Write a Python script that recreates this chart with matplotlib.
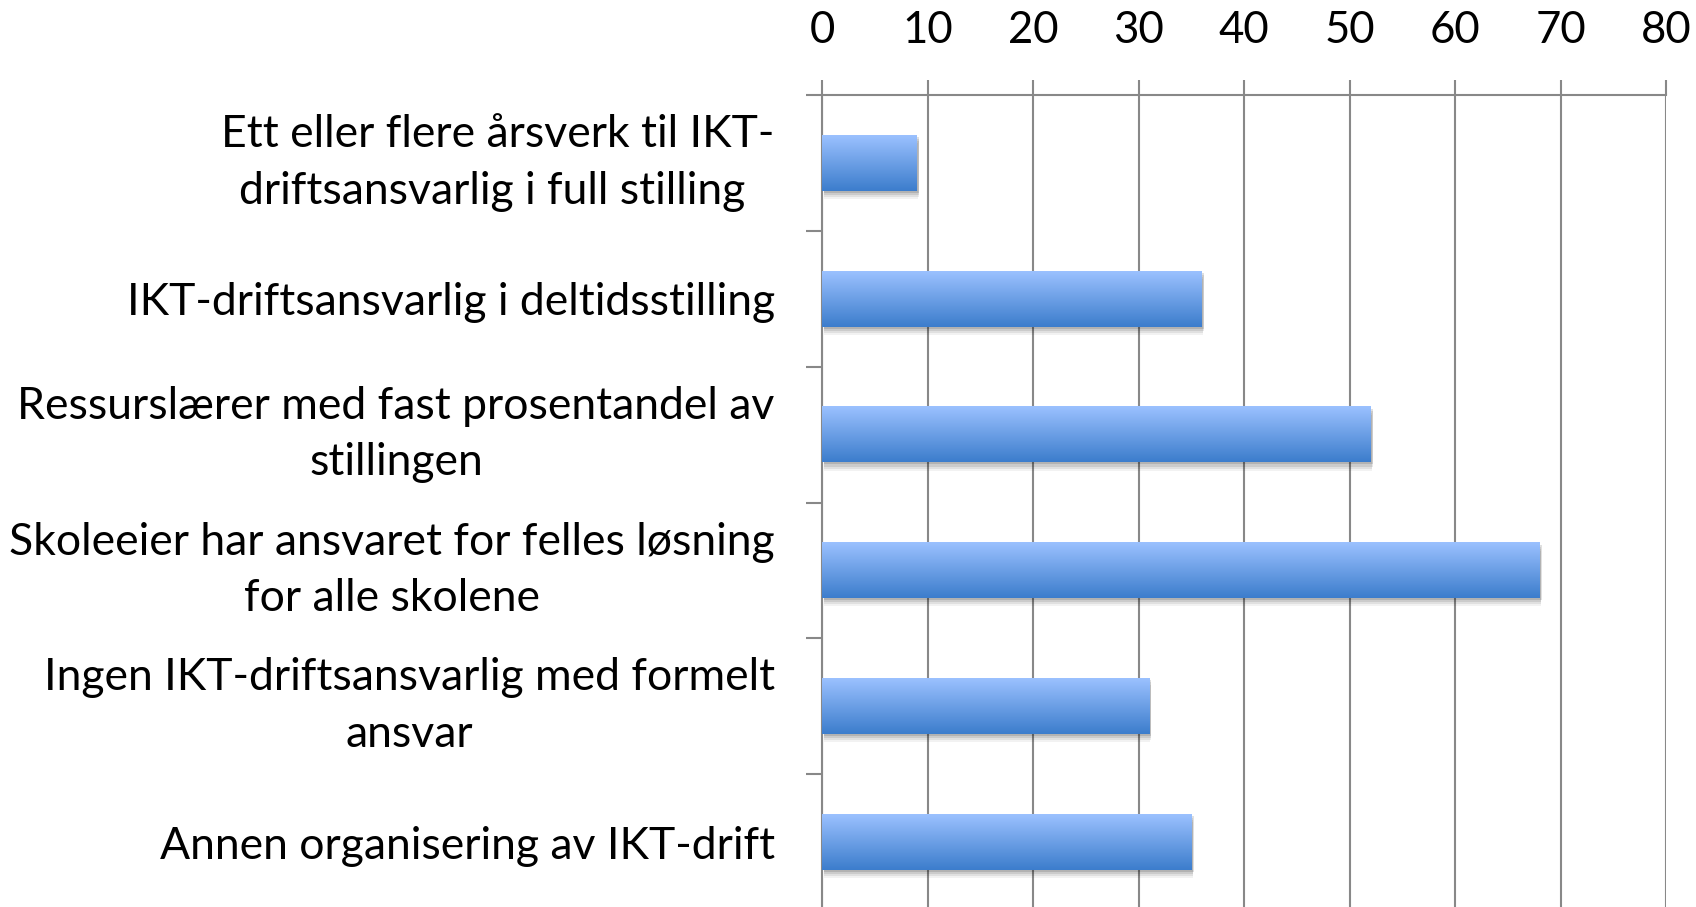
import numpy as np
import matplotlib
matplotlib.use("Agg")
import matplotlib.pyplot as plt
from matplotlib.patches import Rectangle

categories = [
    "Ett eller flere årsverk til IKT-\ndriftsansvarlig i full stilling ",
    "IKT-driftsansvarlig i deltidsstilling",
    "Ressurslærer med fast prosentandel av\nstillingen",
    "Skoleeier har ansvaret for felles løsning\nfor alle skolene",
    "Ingen IKT-driftsansvarlig med formelt\nansvar",
    "Annen organisering av IKT-drift",
]
values = [9, 36, 52, 68, 31, 35]
xticks = [0, 10, 20, 30, 40, 50, 60, 70, 80]

plt.rcParams['font.family'] = ['Lato', 'DejaVu Sans']

W, H = 1696, 907
fig = plt.figure(figsize=(W / 100, H / 100), dpi=100)
left, right, top, bottom = 822, 1666, 95, 910
ax = fig.add_axes([left / W, 1 - bottom / H, (right - left) / W, (bottom - top) / H])

pos = np.arange(len(categories))
bars = ax.barh(pos, values, height=0.41, color='none', edgecolor='none', zorder=3)

top_c = np.array([0.608, 0.757, 1.0])
bot_c = np.array([0.235, 0.490, 0.800])
n = 128
t = np.linspace(0, 1, n)[:, None]
grad = (top_c[None, :] * (1 - t) + bot_c[None, :] * t)[:, None, :]

for b in bars:
    x0, y0, w, h = b.get_x(), b.get_y(), b.get_width(), b.get_height()
    # shadow
    for k, a in zip([0.06, 0.045, 0.03, 0.015], [0.05, 0.07, 0.09, 0.12]):
        ax.add_patch(Rectangle((x0 + 0.15, y0 + k), w + 0.1 - k * 2, h, facecolor='black',
                               alpha=a, edgecolor='none', zorder=2.5))
    ax.imshow(grad, extent=(x0, x0 + w, y0, y0 + h), origin='lower',
              aspect='auto', interpolation='bilinear', zorder=3)

ax.set_xlim(0, 80)
ax.set_ylim(len(categories) - 0.5, -0.5)

grid_c = '#888888'
ax.xaxis.tick_top()
ax.set_xticks(xticks)
ax.set_xticklabels([str(v) for v in xticks], fontsize=31.5)
ax.tick_params(axis='x', which='major', direction='out', length=11, width=1.5,
               color=grid_c, pad=21)
ax.grid(axis='x', color=grid_c, linewidth=1.5, zorder=1)

ax.set_yticks(np.arange(len(categories) + 1) - 0.5)
ax.set_yticklabels([])
ax.set_yticks(pos, minor=True)
labels = ax.set_yticklabels(categories, minor=True, fontsize=32, ha='right',
                            multialignment='center', linespacing=1.47)
for lab in labels:
    if '\n' in lab.get_text():
        lab.set_verticalalignment('center')
ax.tick_params(axis='y', which='major', direction='out', length=11.5, width=1.5, color=grid_c)
ax.tick_params(axis='y', which='minor', length=0, pad=34)

for s in ['right', 'bottom']:
    ax.spines[s].set_visible(False)
for s in ['top', 'left']:
    ax.spines[s].set_color(grid_c)
    ax.spines[s].set_linewidth(1.5)
ax.set_axisbelow(True)

fig.savefig('out.png', dpi=100)
